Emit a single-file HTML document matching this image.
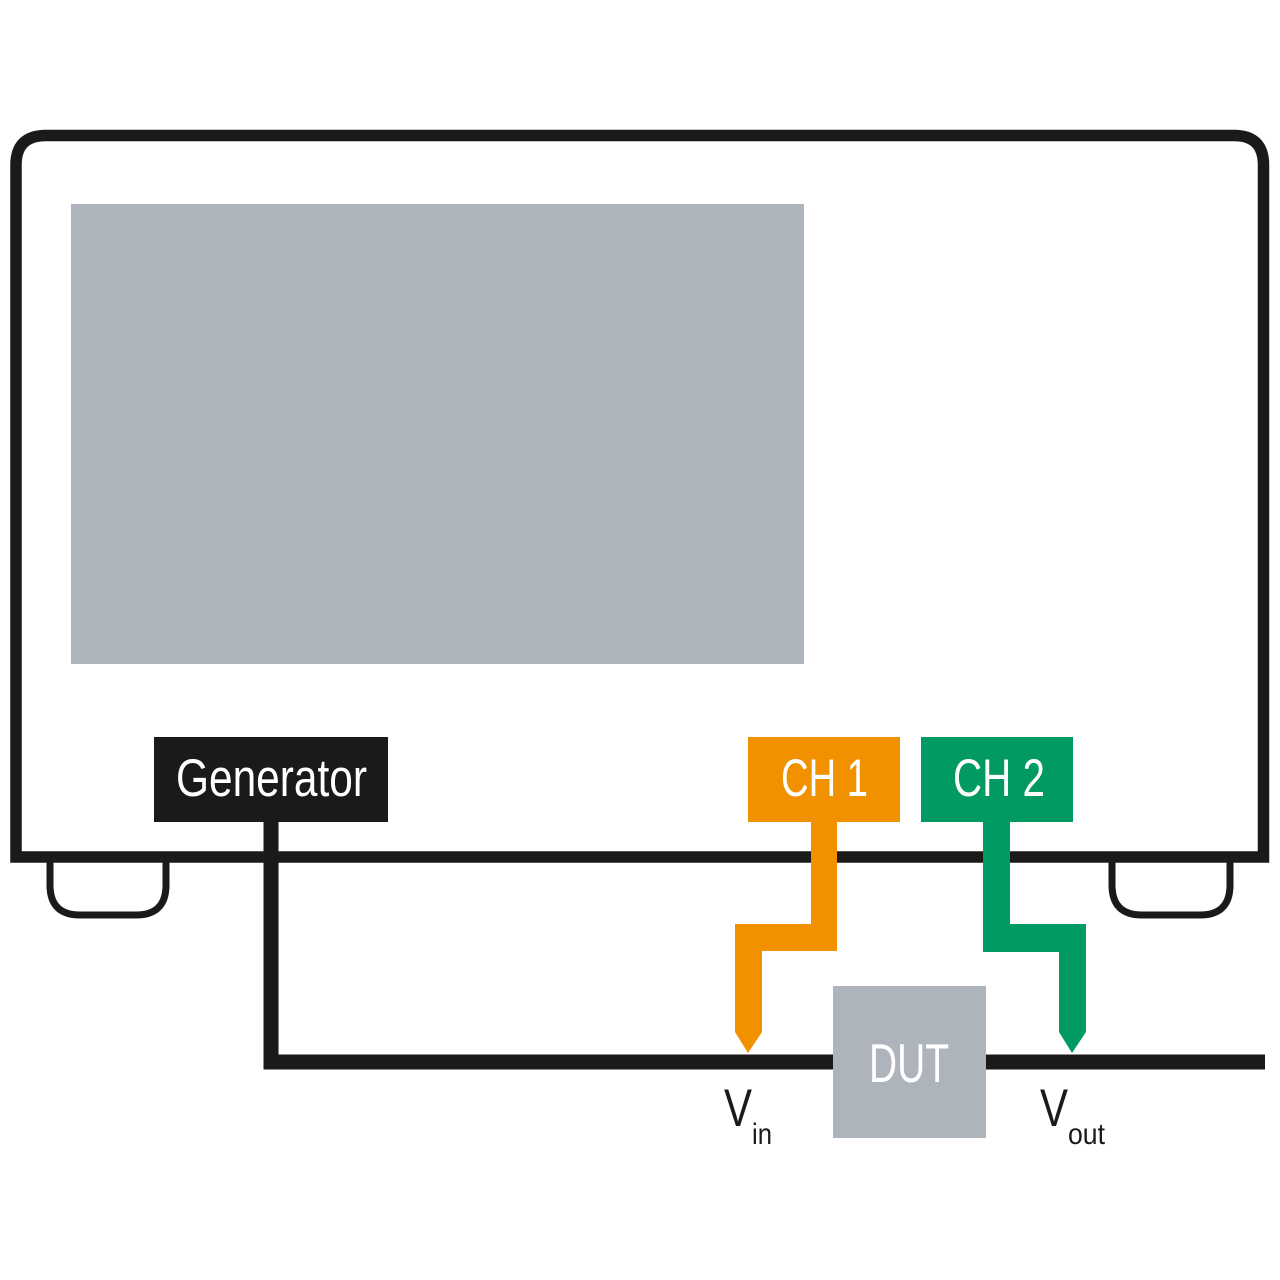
<!DOCTYPE html>
<html><head><meta charset="utf-8"><style>html,body{margin:0;padding:0;background:#fff}svg{display:block}</style></head>
<body>
<svg width="1280" height="1280" viewBox="0 0 1280 1280" xmlns="http://www.w3.org/2000/svg" font-family="'Liberation Sans Narrow','Liberation Sans',sans-serif">
<rect width="1280" height="1280" fill="#fff"/>
<!-- feet -->
<path d="M50 857 V885 Q50 915 80 915 H136 Q166 915 166 885 V857" fill="none" stroke="#1a1a18" stroke-width="7"/>
<path d="M1112 857 V885 Q1112 915 1142 915 H1200 Q1230 915 1230 885 V857" fill="none" stroke="#1a1a18" stroke-width="7"/>
<!-- body -->
<path d="M16 857 V165 Q16 135.5 46 135.5 H1234 Q1263.5 135.5 1263.5 165 V857 Z" fill="none" stroke="#1a1a18" stroke-width="11.5"/>
<!-- screen -->
<rect x="71" y="204" width="733" height="460" fill="#adb4bb"/>
<!-- generator wire -->
<path d="M271 822 V1062 H1265" fill="none" stroke="#1a1a18" stroke-width="15"/>
<rect x="154" y="737" width="234" height="85" fill="#1a1a18"/>
<text x="176" y="796" font-size="53" fill="#fff" textLength="191" lengthAdjust="spacingAndGlyphs">Generator</text>
<!-- CH1 -->
<path d="M811 822 H837 V951 H762 V1032 L748 1053 L735 1032 V924 H811 Z" fill="#f29100"/>
<rect x="748" y="737" width="152" height="85" fill="#f29100"/>
<text x="781" y="796" font-size="53" fill="#fff" textLength="87" lengthAdjust="spacingAndGlyphs">CH 1</text>
<!-- CH2 -->
<path d="M983 822 H1010 V924 H1086 V1032 L1072 1053 L1059 1032 V952 H983 Z" fill="#009a62"/>
<rect x="921" y="737" width="152" height="85" fill="#009a62"/>
<text x="953" y="796" font-size="53" fill="#fff" textLength="92" lengthAdjust="spacingAndGlyphs">CH 2</text>
<!-- DUT -->
<rect x="833" y="986" width="153" height="152" fill="#adb4bb"/>
<text x="869" y="1082" font-size="55" fill="#fff" textLength="80" lengthAdjust="spacingAndGlyphs">DUT</text>
<!-- labels -->
<text x="724" y="1126" font-size="53" fill="#1a1a18" textLength="28" lengthAdjust="spacingAndGlyphs">V</text>
<text x="752" y="1144" font-size="30" fill="#1a1a18" textLength="20" lengthAdjust="spacingAndGlyphs">in</text>
<text x="1040" y="1126" font-size="53" fill="#1a1a18" textLength="28" lengthAdjust="spacingAndGlyphs">V</text>
<text x="1068" y="1144" font-size="30" fill="#1a1a18" textLength="37" lengthAdjust="spacingAndGlyphs">out</text>
</svg>
</body></html>
